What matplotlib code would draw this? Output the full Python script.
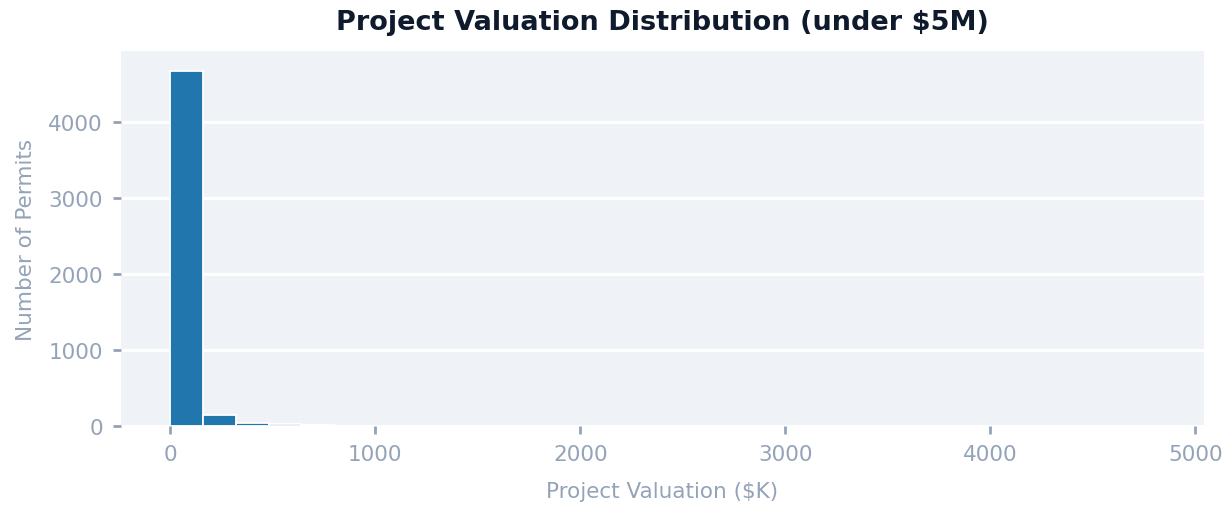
import numpy as np
import matplotlib.pyplot as plt

# histogram of project valuation in $K, 30 bins from 0 to 4800
bin_edges = np.linspace(0, 4800, 31)
counts = [4670, 145, 42, 22, 10, 6, 5, 4, 3, 3,
          2, 2, 2, 1, 1, 1, 1, 1, 1, 1,
          1, 0, 1, 0, 1, 0, 0, 1, 0, 1]

bar_color = "#2176ae"
bg_color = "#eff3f8"
muted = "#94a3b8"
dark = "#0f1b2d"

fig = plt.figure(figsize=(12.31, 5.06), dpi=100)
ax = fig.add_axes([0.0983, 0.156, 0.8797, 0.741])
ax.set_facecolor(bg_color)

centers = (bin_edges[:-1] + bin_edges[1:]) / 2
ax.hist(centers, bins=bin_edges, weights=counts, color=bar_color,
        edgecolor="white", linewidth=1.3, zorder=3)

ax.set_yticks([0, 1000, 2000, 3000, 4000])
ax.set_xticks([0, 1000, 2000, 3000, 4000, 5000])
ax.set_xlim(-240, 5042)
ax.set_ylim(0, 4930)

ax.grid(axis="y", color="white", linewidth=2.2, zorder=1)
ax.set_axisbelow(True)
for s in ax.spines.values():
    s.set_visible(False)
ax.tick_params(colors=muted, labelsize=15.5, length=6, width=2, pad=7)

ax.set_xlabel("Project Valuation ($K)", color=muted, fontsize=15.5, labelpad=12)
ax.set_ylabel("Number of Permits", color=muted, fontsize=15.5, labelpad=9)
ax.set_title("Project Valuation Distribution (under $5M)", color=dark,
             fontsize=19.5, fontweight="bold", pad=16)

fig.savefig("out.png", dpi=100)
